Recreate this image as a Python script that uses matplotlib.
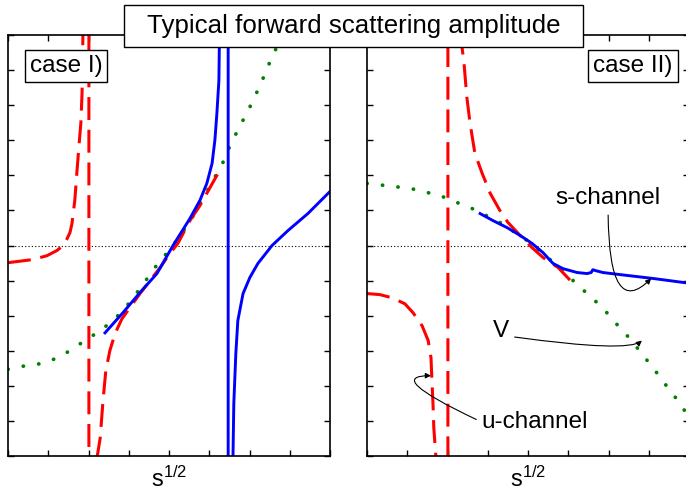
import numpy as np
import matplotlib
matplotlib.use('Agg')
import matplotlib.pyplot as plt

plt.rcParams['font.family'] = ['Liberation Sans', 'DejaVu Sans']
plt.rcParams['mathtext.fontset'] = 'custom'
plt.rcParams['mathtext.rm'] = 'Liberation Sans'
plt.rcParams['mathtext.it'] = 'Liberation Sans'

# case I) -- left panel
u1_x = [0.0, 0.62, 0.97, 1.22, 1.37, 1.47, 1.54, 1.59, 1.66, 1.71, 1.76, 1.81, 1.84, 1.86, 1.90,
        2.01, 2.01, 2.18, 2.21, 2.29, 2.36, 2.43, 2.53, 2.66, 2.83, 3.03, 3.28, 3.53, 3.78, 4.02,
        4.22, 4.52, 4.77, 4.94, 5.22]
u1_y = [-0.49, -0.40, -0.29, -0.14, 0.0, 0.2, 0.37, 0.63, 1.29, 2.06, 2.8, 3.49, 4.34, 5.91, 9.0,
        9.0, -9.0, -9.0, -6.06, -5.49, -4.43, -3.57, -3.0, -2.51, -2.09, -1.77, -1.37, -1.0, -0.63, -0.23,
        0.06, 0.71, 1.14, 1.49, 2.06]
s1_x = [2.41, 2.86, 3.28, 3.70, 4.10, 4.52, 4.77, 4.94, 5.07, 5.14, 5.19, 5.24, 5.25, 5.27, 5.30,
        5.47, 5.47, 5.585, 5.59, 5.61, 5.66, 5.71, 5.84, 6.01, 6.21, 6.56, 6.96, 7.45, 8.0]
s1_y = [-2.49, -1.91, -1.34, -0.8, 0.0, 0.77, 1.29, 1.77, 2.34, 3.0, 3.77, 4.71, 5.66, 6.0, 9.0,
        9.0, -9.0, -9.0, -6.0, -4.51, -3.09, -2.14, -1.37, -0.91, -0.51, 0.0, 0.43, 0.91, 1.54]
v1_x = [0.0, 0.42, 0.80, 1.17, 1.54, 1.91, 2.29, 2.66, 2.96, 3.28, 3.65, 4.10, 4.55, 4.89,
        5.37, 5.52, 5.76, 5.96, 6.14, 6.31, 6.46, 6.63, 6.88]
v1_y = [-3.53, -3.43, -3.37, -3.23, -3.0, -2.71, -2.43, -2.09, -1.71, -1.23, -0.63, 0.0, 0.74, 1.43,
        2.43, 2.86, 3.4, 3.83, 4.26, 4.69, 5.11, 5.54, 6.14]

# case II) -- right panel
u2_x = [0.0, 0.32, 0.62, 0.94, 1.14, 1.37, 1.52, 1.59, 1.61, 1.64, 1.66, 1.71, 1.76, 2.01, 2.01,
        2.30, 2.34, 2.36, 2.41, 2.48, 2.56, 2.68, 2.86, 3.06, 3.30, 3.50, 3.80, 4.10, 4.37, 4.75, 5.17]
u2_y = [-1.37, -1.4, -1.49, -1.66, -1.91, -2.29, -2.71, -3.2, -3.77, -4.51, -5.2, -6.0, -9.0, -9.0, 9.0,
        9.0, 6.0, 5.66, 5.2, 4.23, 3.49, 2.63, 2.06, 1.49, 1.0, 0.66, 0.29, -0.06, -0.34, -0.63, -1.14]
s2_x = [2.81, 3.13, 3.48, 3.80, 4.10, 4.37, 4.62, 4.87, 5.22, 5.47, 5.57, 5.61, 5.66, 5.86,
        6.29, 7.11, 7.90, 8.1]
s2_y = [0.91, 0.71, 0.51, 0.29, 0.06, -0.2, -0.51, -0.66, -0.77, -0.8, -0.77, -0.69, -0.71, -0.77,
        -0.83, -0.94, -1.06, -1.08]
v2_x = [0.0, 0.45, 0.82, 1.19, 1.57, 1.94, 2.29, 2.66, 3.30, 3.98, 4.42, 4.84, 5.17, 5.47,
        5.61, 5.94, 6.24, 6.56, 6.83, 7.11, 7.38, 7.65, 7.93, 8.2]
v2_y = [1.77, 1.71, 1.66, 1.6, 1.49, 1.37, 1.2, 1.03, 0.66, 0.14, -0.29, -0.66, -1.06, -1.37,
        -1.51, -1.89, -2.29, -2.69, -3.09, -3.49, -3.91, -4.31, -4.77, -5.2]

red_ls = (0, (7.5, 3.2))
green_ls = (0, (0.05, 4.1))

fig = plt.figure(figsize=(6.86, 4.91), dpi=100)
ax1 = fig.add_axes([8/686, 1-456/491, 322/686, 421/491])
ax2 = fig.add_axes([367/686, 1-456/491, 322/686, 421/491])

for ax, ux, uy, sx, sy, vx, vy in [(ax1, u1_x, u1_y, s1_x, s1_y, v1_x, v1_y),
                                   (ax2, u2_x, u2_y, s2_x, s2_y, v2_x, v2_y)]:
    ax.axhline(0, color='k', lw=0.8, ls=(0, (1, 2)))
    ax.plot(vx, vy, color='#008000', lw=2.7, ls=green_ls, dash_capstyle='round')
    ax.plot(ux, uy, color='#ff0000', lw=2.2, ls=red_ls)
    ax.plot(sx, sy, color='#0000ff', lw=2.1)
    ax.set_xlim(0, 8)
    ax.set_ylim(-6, 6)
    ax.set_xticks(np.arange(0, 9, 1))
    ax.set_yticks(np.arange(-6, 7, 1))
    ax.tick_params(direction='in', top=True, right=True, labelbottom=False,
                   labelleft=False, length=4, width=1)
    for sp in ax.spines.values():
        sp.set_linewidth(1.2)
    ax.text(0.5, -31/421, r'$\mathrm{s}^{\mathrm{1/2}}$', transform=ax.transAxes,
            ha='center', va='baseline', fontsize=17)

box = dict(boxstyle='square,pad=0.2', fc='white', ec='k', lw=1)
ax1.text(58/322, 1-31/421, 'case I)', transform=ax1.transAxes, ha='center', va='center',
         fontsize=17.5, bbox=box)
ax2.text(266/322, 1-31/421, 'case II)', transform=ax2.transAxes, ha='center', va='center',
         fontsize=17.5, bbox=box)

# title box
fig.add_artist(plt.Rectangle((124/686, 1-47/491), 459/686, 42/491, transform=fig.transFigure,
                             fc='white', ec='k', lw=1, zorder=5))
fig.text(354/686, 1-26/491, 'Typical forward scattering amplitude', ha='center', va='center',
         fontsize=18.6, zorder=6)

# annotations in case II)
arr = dict(arrowstyle='-|>', color='k', lw=0.8, mutation_scale=8, shrinkB=0)
ax2.annotate('s-channel', xy=(7.06, -0.94), xytext=(5.99, 1.34), fontsize=17.5, ha='center', va='center',
             arrowprops=dict(arr, relpos=(0.5, 0), shrinkA=2,
                             connectionstyle='angle3,angleA=90,angleB=45'))
ax2.annotate('V', xy=(6.83, -2.71), xytext=(3.33, -2.43), fontsize=17.5, ha='center', va='center',
             arrowprops=dict(arr, relpos=(1, 0.25), shrinkA=2,
                             connectionstyle='angle3,angleA=-8,angleB=40'))
ax2.annotate('u-channel', xy=(1.59, -3.71), xytext=(4.17, -5.03), fontsize=17.5, ha='center', va='center',
             arrowprops=dict(arr, relpos=(0, 0.5), shrinkA=2,
                             connectionstyle='angle3,angleA=155,angleB=0'))

fig.savefig('out.png', dpi=100)
